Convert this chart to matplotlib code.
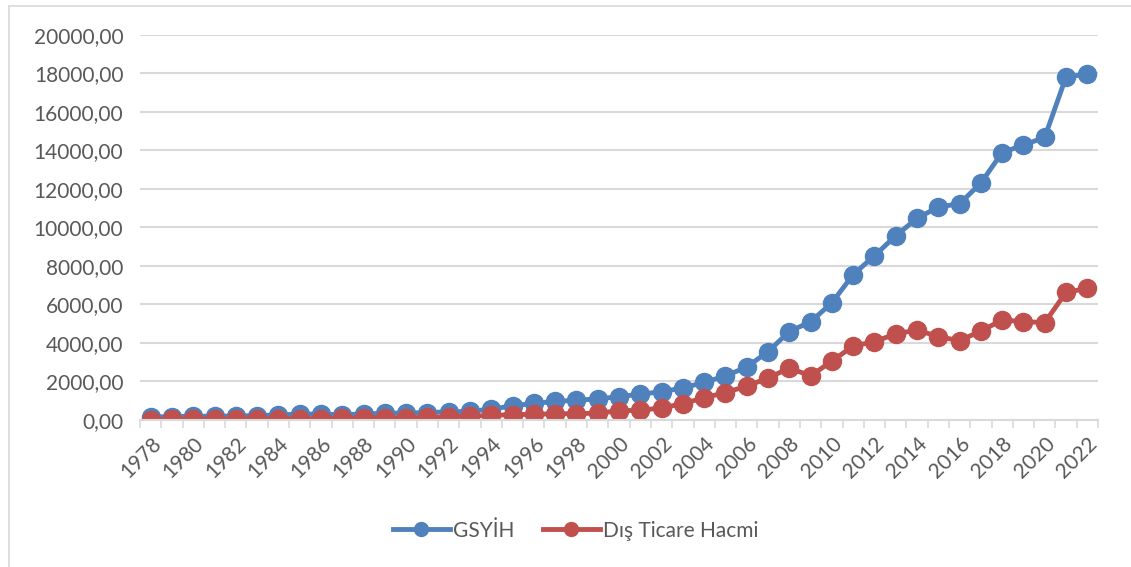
import matplotlib

matplotlib.use('Agg')
import matplotlib.pyplot as plt
from matplotlib.lines import Line2D
from matplotlib.ticker import FuncFormatter, MultipleLocator

years = list(range(1978, 2023))

# GSYİH (milyar $)
gdp = [150, 178, 191, 196, 205, 230, 260, 309, 301, 273,
       312, 348, 361, 383, 427, 445, 564, 734, 864, 962,
       1029, 1094, 1211, 1339, 1471, 1660, 1955, 2286, 2752, 3550,
       4594, 5102, 6087, 7552, 8532, 9570, 10476, 11062, 11233, 12310,
       13895, 14280, 14688, 17820, 17963]

# Dış ticaret hacmi (milyar $)
trade = [21, 29, 38, 44, 42, 44, 54, 70, 74, 83,
         103, 112, 115, 136, 166, 196, 237, 281, 290, 325,
         324, 361, 474, 510, 621, 851, 1155, 1422, 1760, 2177,
         2700, 2290, 3060, 3840, 4070, 4470, 4675, 4330, 4120, 4620,
         5195, 5110, 5060, 6630, 6840]

blue = '#4F81BD'
red = '#C0504D'
grey = '#595959'

plt.rcParams['font.family'] = ['Lato', 'DejaVu Sans']

fig = plt.figure(figsize=(11.31, 5.67), dpi=100)
ax = fig.add_axes([0.1238, 0.2593, 0.847, 0.679])

ax.plot(years, gdp, color=blue, lw=3.5, marker='o', ms=13, label='GSYİH')
ax.plot(years, trade, color=red, lw=3.5, marker='o', ms=13, label='Dış Ticare Hacmi')

ax.set_xlim(1977.5, 2022.5)
ax.set_ylim(0, 20000)
ax.yaxis.set_major_locator(MultipleLocator(2000))
ax.yaxis.set_major_formatter(FuncFormatter(lambda v, p: f'{v:.2f}'.replace('.', ',')))
ax.grid(axis='y', color='#D9D9D9', lw=1.5)
ax.set_axisbelow(True)

ax.set_xticks(years[::2])
ax.set_xticklabels([str(y) for y in years[::2]], rotation=45, ha='right',
                   rotation_mode='anchor', color=grey, fontsize=15)
ax.set_xticks([y + 0.5 for y in range(1977, 2023)], minor=True)
ax.tick_params(axis='x', which='major', length=0, pad=10)
ax.tick_params(axis='x', which='minor', length=6, color='#D9D9D9', width=1.2)
ax.tick_params(axis='y', length=0, labelsize=15, labelcolor=grey, pad=12)

for s in ['top', 'right', 'left']:
    ax.spines[s].set_visible(False)
ax.spines['bottom'].set_color('#D9D9D9')
ax.spines['bottom'].set_linewidth(1.5)

leg = fig.legend(loc='center', bbox_to_anchor=(0.509, 0.064), ncol=2, frameon=False,
                 fontsize=15, handlelength=2.7, columnspacing=1.4, handletextpad=0.15)
for t in leg.get_texts():
    t.set_color(grey)
for h in leg.legend_handles:
    h.set_markersize(10)

# chart border (only left and top edges are visible in the crop)
fig.add_artist(Line2D([0.008, 0.008], [0, 0.989], transform=fig.transFigure,
                      color='#D9D9D9', lw=1.2))
fig.add_artist(Line2D([0.008, 1], [0.989, 0.989], transform=fig.transFigure,
                      color='#D9D9D9', lw=1.2))

plt.savefig('out.png')
